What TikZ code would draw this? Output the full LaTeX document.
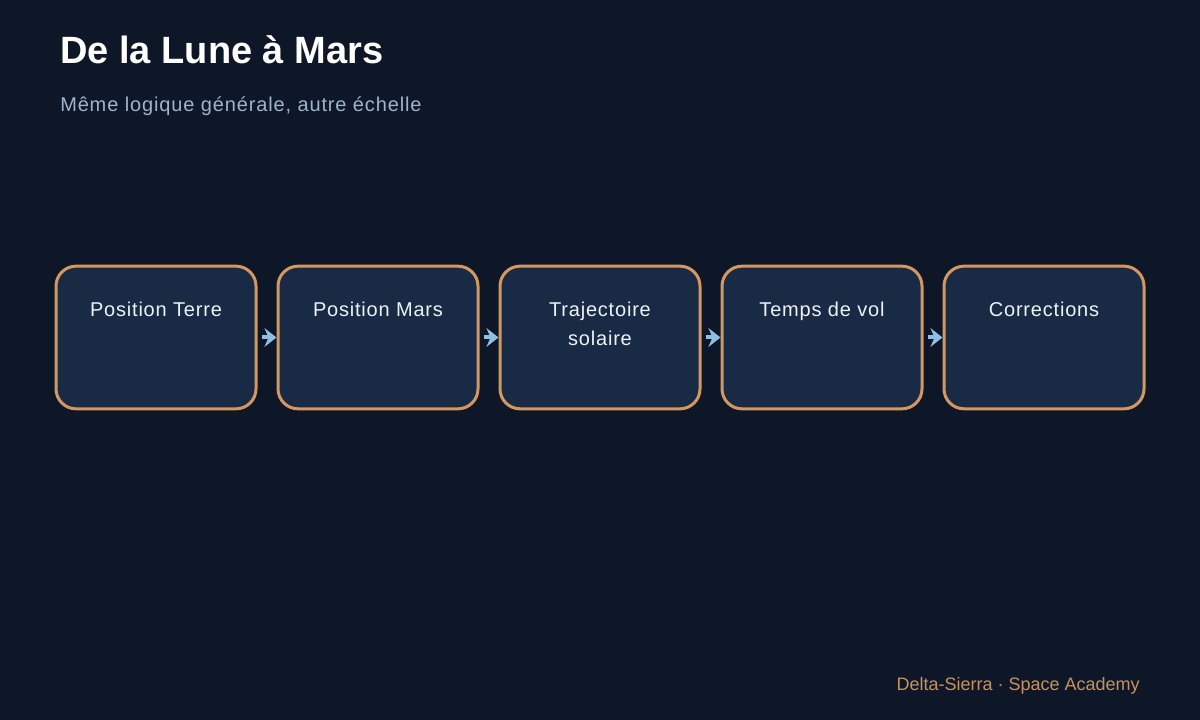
\documentclass[tikz,border=0pt]{standalone}
\usepackage{fontspec}
\setmainfont{Liberation Sans}
\usetikzlibrary{arrows.meta}

\definecolor{bgnavy}{HTML}{0E1727}
\definecolor{boxfill}{HTML}{192A45}
\definecolor{boxedge}{HTML}{D4975F}
\definecolor{boxtext}{HTML}{EEF2F7}
\definecolor{subgrey}{HTML}{9CB4CD}
\definecolor{footorange}{HTML}{C8915E}
\definecolor{arrowblue}{HTML}{8DC0E3}

\tikzset{
  stepbox/.style={draw=boxedge, fill=boxfill, line width=2.25pt, rounded corners=15pt,
    minimum width=150pt, minimum height=107pt, inner sep=0pt},
  boxlabel/.style={text=boxtext, font=\fontsize{15pt}{21pt}\selectfont\addfontfeature{LetterSpace=4.0},
    align=center, anchor=base, inner sep=0pt},
  flow/.style={draw=arrowblue, line width=3pt,
    -{Stealth[length=9pt,width=14pt,inset=3pt]}, shorten <=3.4pt}
}

\begin{document}
\begin{tikzpicture}[x=0.75pt,y=0.75pt,yscale=-1]
  % background, fixes the page size
  \fill[bgnavy] (0,0) rectangle (1200,720);

  % Title
  \node (title) [anchor=base west, inner sep=0pt, text=white, font=\fontsize{28.5pt}{34pt}\selectfont\bfseries] at (60,64) {De la Lune à Mars};
  % Subtitle
  \node (subtitle) [anchor=base west, inner sep=0pt, text=subgrey, font=\fontsize{15pt}{18pt}\selectfont\addfontfeature{LetterSpace=4.3}] at (60,112) {Même logique générale, autre échelle};

  % Boxes
  \node (terre) [stepbox] at (156,337.5) {};
  \node (mars) [stepbox] at (378,337.5) {};
  \node (traj) [stepbox] at (600,337.5) {};
  \node (vol) [stepbox] at (822,337.5) {};
  \node (corr) [stepbox] at (1044,337.5) {};

  % Box labels (base = last line)
  \node (terretxt) [boxlabel] at (156,317) {Position Terre};
  \node (marstxt) [boxlabel] at (378,317) {Position Mars};
  \node (trajtxt) [boxlabel] at (600,345) {Trajectoire\\solaire};
  \node (voltxt) [boxlabel] at (822,317) {Temps de vol};
  \node (corrtxt) [boxlabel] at (1044,317) {Corrections};

  % Arrows between boxes
  \draw[flow] (terre) -- (mars);
  \draw[flow] (mars) -- (traj);
  \draw[flow] (traj) -- (vol);
  \draw[flow] (vol) -- (corr);

  % Footer
  \node (footer) [anchor=base east, inner sep=0pt, text=footorange, font=\fontsize{13.5pt}{16pt}\selectfont] at (1140,690) {Delta-Sierra · Space Academy};
\end{tikzpicture}
\end{document}
